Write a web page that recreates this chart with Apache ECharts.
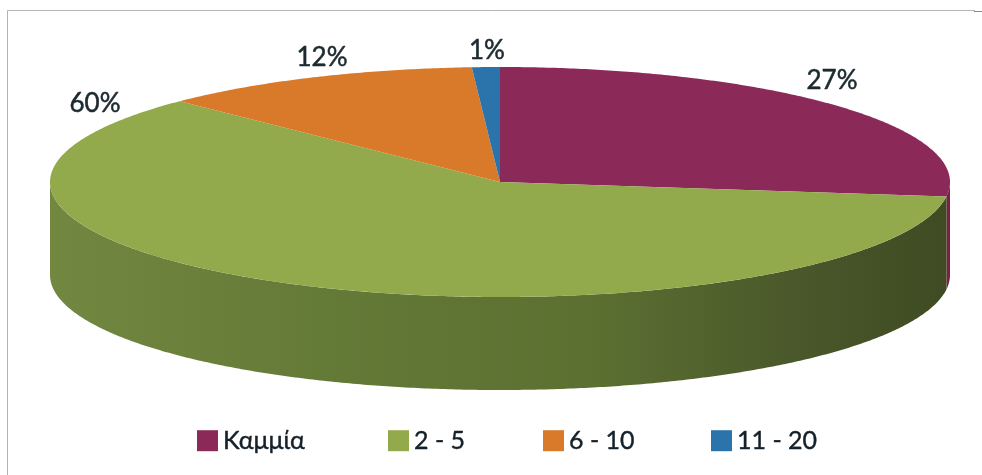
<!DOCTYPE html>
<html>
<head>
<meta charset="utf-8">
<style>html,body{margin:0;padding:0;background:#fff}#c{width:982px;height:475px}</style>
<script src="https://cdn.jsdelivr.net/npm/echarts@6/dist/echarts.min.js"></script>
</head>
<body>
<div id="c"></div>
<script>
const categories = ['Καμμία', '2 - 5', '6 - 10', '11 - 20'];
const shares = [27, 60.4, 11.6, 1];
const topColors = ['#8b2a58', '#92aa4b', '#d97a2b', '#2b74ab'];
const sideStops = [
  [['#7a2149', 0], ['#7a2149', 1]],
  [['#728740', 0], ['#647a37', 0.3], ['#5c7031', 0.6], ['#48562a', 0.85], ['#3f4b22', 1]],
  [['#a85d20', 0], ['#a85d20', 1]],
  [['#1f5680', 0], ['#1f5680', 1]]
];
// layout, not data: label centres from the pie centre, and legend item lefts
const labelOffsets = [[332, -101], [-405, -78], [-178, -124], [-13, -131]];
const legendLefts = [197, 388, 543, 711];

const CX = 500, CY = 182, RX = 450, RY = 115, DEPTH = 93;
const total = shares.reduce((a, b) => a + b, 0);

function pt(deg, dy) {
  const r = deg * Math.PI / 180;
  return [CX + RX * Math.sin(r), CY - RY * Math.cos(r) + (dy || 0)];
}
function arc(a0, a1, dy) {
  const n = Math.max(2, Math.ceil(Math.abs(a1 - a0) * 2));
  const out = [];
  for (let i = 0; i <= n; i++) out.push(pt(a0 + (a1 - a0) * i / n, dy));
  return out;
}

function makeSeries(idx) {
  const before = shares.slice(0, idx).reduce((a, b) => a + b, 0);
  const a0 = before / total * 360;
  const a1 = (before + shares[idx]) / total * 360;
  return {
    type: 'custom',
    name: categories[idx],
    coordinateSystem: 'none',
    silent: true,
    animation: false,
    itemStyle: { color: topColors[idx] },
    data: [[shares[idx]]],
    renderItem: function () {
      const children = [];
      const s0 = Math.max(a0, 90), s1 = Math.min(a1, 270);
      if (s1 > s0) {
        const upper = arc(s0, s1, 0);
        const lower = arc(s1, s0, DEPTH);
        children.push({
          type: 'polygon',
          shape: { points: upper.concat(lower) },
          style: {
            fill: {
              type: 'linear', x: CX - RX, y: 0, x2: CX + RX, y2: 0, global: true,
              colorStops: sideStops[idx].map(s => ({ color: s[0], offset: s[1] }))
            }
          }
        });
      }
      children.push({
        type: 'polygon',
        shape: { points: [[CX, CY]].concat(arc(a0, a1, 0)) },
        style: { fill: topColors[idx] }
      });
      return { type: 'group', children: children };
    }
  };
}

const labelSeries = {
  type: 'custom',
  coordinateSystem: 'none',
  silent: true,
  animation: false,
  z: 5,
  data: shares.map((v, i) => [v, i]),
  renderItem: function (params, api) {
    const i = api.value(1);
    return {
      type: 'text',
      style: {
        x: CX + labelOffsets[i][0],
        y: CY + labelOffsets[i][1],
        text: Math.round(api.value(0)) + '%',
        fill: '#1c2a30',
        stroke: '#1c2a30',
        lineWidth: 0.5,
        font: '26px Lato',
        align: 'center',
        verticalAlign: 'middle'
      }
    };
  }
};

const chart = echarts.init(document.getElementById('c'), null, { renderer: 'canvas' });
chart.setOption({
  animation: false,
  backgroundColor: '#ffffff',
  legend: categories.map((name, i) => ({
    left: legendLefts[i],
    top: 428,
    padding: 0,
    itemWidth: 21,
    itemHeight: 21,
    icon: 'rect',
    selectedMode: false,
    data: [name],
    textStyle: {
      fontFamily: 'Lato',
      fontSize: 25,
      color: '#14202a',
      textBorderColor: '#14202a',
      textBorderWidth: 0.4
    }
  })),
  graphic: [
    { type: 'line', shape: { x1: 7.5, y1: 10.5, x2: 975, y2: 10.5 }, style: { stroke: '#b4b4b4', lineWidth: 1 }, silent: true },
    { type: 'line', shape: { x1: 7.5, y1: 10.5, x2: 7.5, y2: 475 }, style: { stroke: '#b4b4b4', lineWidth: 1 }, silent: true },
    { type: 'line', shape: { x1: 974, y1: 11.5, x2: 982, y2: 11.5 }, style: { stroke: '#8a8a8a', lineWidth: 1 }, silent: true }
  ],
  series: categories.map((_, i) => makeSeries(i)).concat([labelSeries])
});
</script>
</body>
</html>
